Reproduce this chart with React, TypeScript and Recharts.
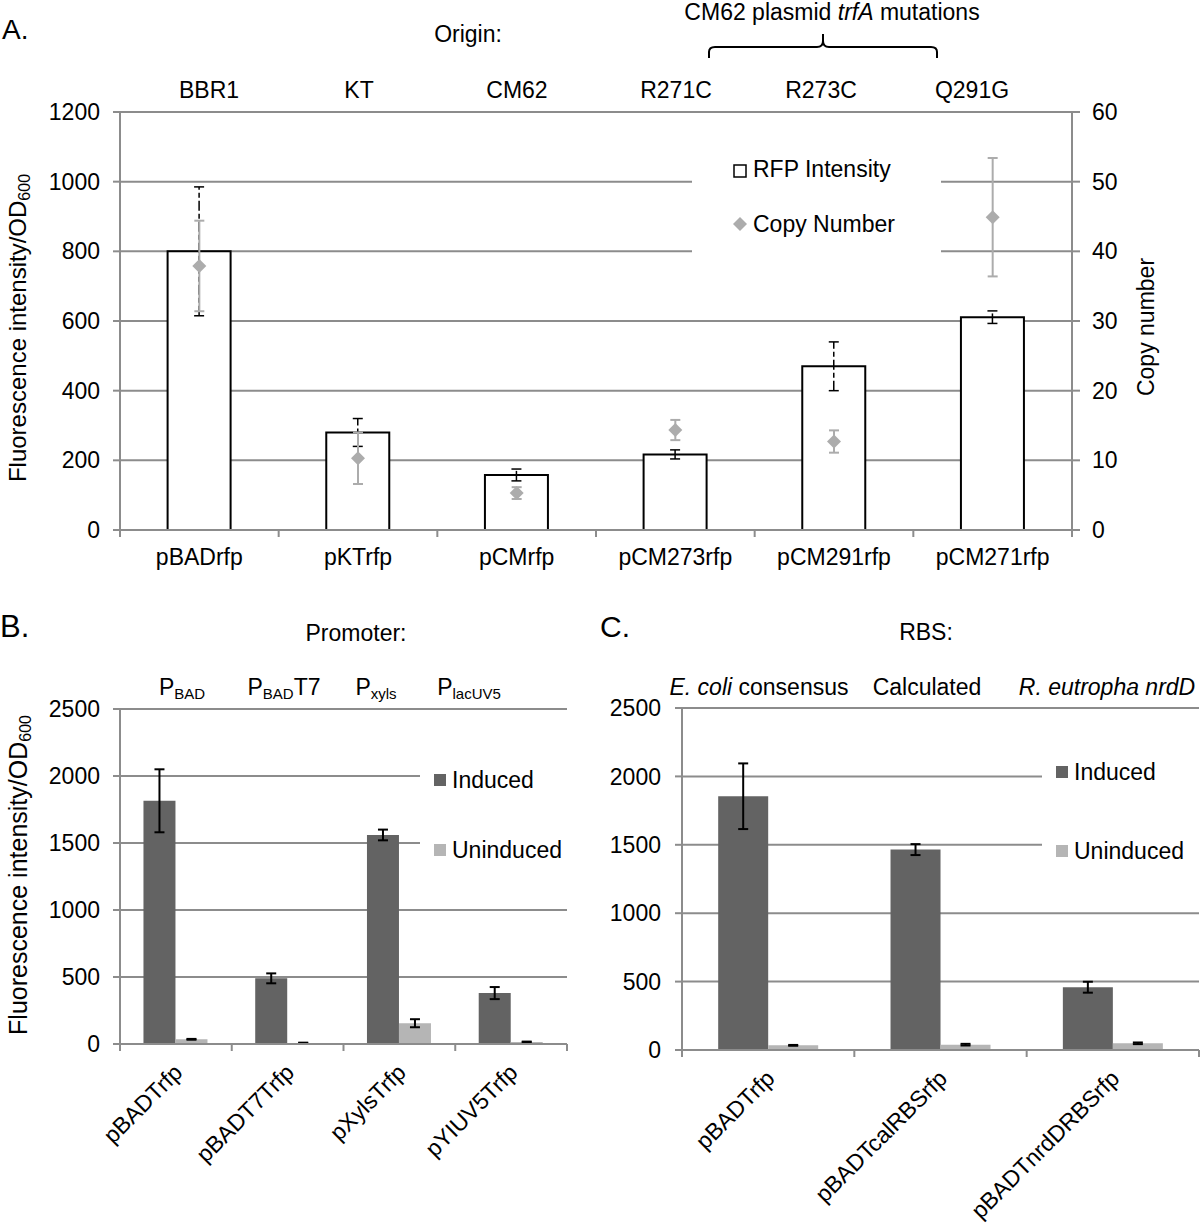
import React from 'react';
import {
  ComposedChart,
  BarChart,
  Bar,
  Line,
  XAxis,
  YAxis,
  CartesianGrid,
  ErrorBar,
  Legend,
} from 'recharts';

// ---------------- Data ----------------
// Panel A
const plasmidsA = ['pBADrfp', 'pKTrfp', 'pCMrfp', 'pCM273rfp', 'pCM291rfp', 'pCM271rfp'];
const rfpIntensity = [800, 280, 158, 217, 470, 611];
const rfpError = [185, 40, 17, 13, 70, 18];
const copyNumber = [37.9, 10.3, 5.3, 14.35, 12.7, 44.9];
const copyError = [6.5, 3.7, 0.85, 1.45, 1.6, 8.5];
const originLabels = ['BBR1', 'KT', 'CM62', 'R271C', 'R273C', 'Q291G'];
const ticksA = [0, 200, 400, 600, 800, 1000, 1200];
const ticksCopy = [0, 10, 20, 30, 40, 50, 60];

// Panel B
const plasmidsB = ['pBADTrfp', 'pBADT7Trfp', 'pXylsTrfp', 'pYIUV5Trfp'];
const inducedB = [1815, 490, 1560, 380];
const inducedErrB = [235, 37, 40, 45];
const uninducedB = [35, 8, 155, 15];
const uninducedErrB = [3, 2, 30, 3];

// Panel C
const plasmidsC = ['pBADTrfp', 'pBADTcalRBSrfp', 'pBADTnrdDRBSrfp'];
const inducedC = [1855, 1465, 459];
const inducedErrC = [240, 40, 40];
const uninducedC = [34, 39, 49];
const uninducedErrC = [3, 6, 6];

const ticksBC = [0, 500, 1000, 1500, 2000, 2500];

// ---------------- Styles ----------------
const FONT = '"Liberation Sans", Arial, Helvetica, sans-serif';
const GRID = '#8c8c8c';
const INDUCED = '#636363';
const UNINDUCED = '#b5b5b5';
const COPY = '#acacac';

// Positions of overlay annotation texts (layout, not data)
const originLabelX = [209, 359, 517, 676, 821, 972];

const dataA = plasmidsA.map((name, i) => ({
  name,
  rfp: rfpIntensity[i],
  rfpErr: rfpError[i],
  copy: copyNumber[i],
  copyErr: copyError[i],
}));
const dataB = plasmidsB.map((name, i) => ({
  name,
  induced: inducedB[i],
  inducedErr: inducedErrB[i],
  uninduced: uninducedB[i],
  uninducedErr: uninducedErrB[i],
}));
const dataC = plasmidsC.map((name, i) => ({
  name,
  induced: inducedC[i],
  inducedErr: inducedErrC[i],
  uninduced: uninducedC[i],
  uninducedErr: uninducedErrC[i],
}));

function CategoryTick(props: any) {
  const { x, y, payload, index, count, rotated, fontSize } = props;
  let half = typeof payload?.offset === 'number' ? payload.offset : 0;
  if (!half && typeof props.width === 'number' && count) half = props.width / count / 2;
  const isLast = index === count - 1;
  return (
    <g>
      <line x1={x - half} y1={y} x2={x - half} y2={y + 7} stroke={GRID} strokeWidth={2} />
      {isLast && <line x1={x + half} y1={y} x2={x + half} y2={y + 7} stroke={GRID} strokeWidth={2} />}
      {rotated ? (
        <text
          x={x + 8}
          y={y + 30}
          textAnchor="end"
          transform={`rotate(-45 ${x + 8} ${y + 30})`}
          fontSize={fontSize}
          fontFamily={FONT}
          fill="#000"
        >
          {payload.value}
        </text>
      ) : (
        <text x={x} y={y + 35} textAnchor="middle" fontSize={fontSize} fontFamily={FONT} fill="#000">
          {payload.value}
        </text>
      )}
    </g>
  );
}

const Diamond = (p: any) => {
  const { cx, cy, index } = p;
  if (cx == null || cy == null) return <g key={`dn-${index}`} />;
  return (
    <path
      key={`dia-${index}`}
      d={`M${cx},${cy - 7}L${cx + 7},${cy}L${cx},${cy + 7}L${cx - 7},${cy}Z`}
      fill={COPY}
    />
  );
};

const LegendA = () => (
  <svg width={249} height={115} style={{ display: 'block' }}>
    <rect x={42} y={20} width={12} height={12} fill="#fff" stroke="#000" strokeWidth={1.5} />
    <text x={61} y={32} fontSize={23} fontFamily={FONT} fill="#000">RFP Intensity</text>
    <path d="M48,72 L55,79 L48,86 L41,79 Z" fill={COPY} />
    <text x={61} y={87} fontSize={23} fontFamily={FONT} fill="#000">Copy Number</text>
  </svg>
);

const makeLegendBC = (w: number, h: number, y1: number, y2: number) => () => (
  <svg width={w} height={h} style={{ display: 'block' }}>
    <rect x={14} y={y1 - 6} width={12} height={12} fill={INDUCED} />
    <text x={32} y={y1 + 8} fontSize={23} fontFamily={FONT} fill="#000">Induced</text>
    <rect x={14} y={y2 - 6} width={12} height={12} fill={UNINDUCED} />
    <text x={32} y={y2 + 8} fontSize={23} fontFamily={FONT} fill="#000">Uninduced</text>
  </svg>
);
const LegendB = makeLegendBC(147, 130, 35, 105);
const LegendC = makeLegendBC(158, 145, 32, 111);

const tickStyle = { fill: '#000', fontSize: 23, fontFamily: FONT };
const axisLineStyle = { stroke: GRID, strokeWidth: 2 };
const tickLineStyle = { stroke: GRID, strokeWidth: 2 };

export default function App() {
  return (
    <div style={{ position: 'absolute', left: 0, top: 0, width: 1200, height: 1225, background: '#fff', fontFamily: FONT }}>
      {/* Panel A */}
      <div style={{ position: 'absolute', left: 0, top: 0 }}>
        <ComposedChart
          width={1200}
          height={600}
          data={dataA}
          margin={{ top: 112, right: 0, bottom: 0, left: 0 }}
          barCategoryGap="30%"
        >
          <CartesianGrid vertical={false} stroke={GRID} strokeWidth={2} yAxisId="left" />
          <XAxis
            dataKey="name"
            interval={0}
            tickLine={false}
            tickSize={0}
            tickMargin={0}
            height={70}
            axisLine={axisLineStyle}
            tick={<CategoryTick count={plasmidsA.length} fontSize={23} />}
          />
          <YAxis
            yAxisId="left"
            width={120}
            domain={[0, 1200]}
            ticks={ticksA}
            allowDataOverflow
            tickSize={7}
            tickMargin={13}
            tick={tickStyle}
            axisLine={axisLineStyle}
            tickLine={tickLineStyle}
          />
          <YAxis
            yAxisId="right"
            orientation="right"
            width={128}
            domain={[0, 60]}
            ticks={ticksCopy}
            allowDataOverflow
            tickSize={8}
            tickMargin={12}
            tick={tickStyle}
            axisLine={axisLineStyle}
            tickLine={tickLineStyle}
          />
          <Bar yAxisId="left" dataKey="rfp" fill="#fff" stroke="#000" strokeWidth={2} isAnimationActive={false}>
            <ErrorBar dataKey="rfpErr" width={5} stroke="#000" strokeWidth={1.5} strokeDasharray="10 3 5 3" direction="y" />
          </Bar>
          <Line
            yAxisId="right"
            dataKey="copy"
            stroke="none"
            dot={Diamond}
            activeDot={false}
            isAnimationActive={false}
          >
            <ErrorBar dataKey="copyErr" width={5} stroke={COPY} strokeWidth={2} direction="y" />
          </Line>
          <Legend
            layout="vertical"
            align="center"
            verticalAlign="middle"
            content={LegendA}
            wrapperStyle={{ left: 692, top: 145, width: 249, height: 115, backgroundColor: '#fff' }}
          />
        </ComposedChart>
      </div>

      {/* Panel B */}
      <div style={{ position: 'absolute', left: 0, top: 600 }}>
        <BarChart
          width={600}
          height={625}
          data={dataB}
          margin={{ top: 109, right: 33, bottom: 0, left: 0 }}
          barCategoryGap="21%"
          barGap={0}
        >
          <CartesianGrid vertical={false} stroke={GRID} strokeWidth={2} />
          <XAxis
            dataKey="name"
            interval={0}
            tickLine={false}
            tickSize={0}
            tickMargin={0}
            height={181}
            axisLine={axisLineStyle}
            tick={<CategoryTick count={plasmidsB.length} fontSize={23} rotated />}
          />
          <YAxis
            width={120}
            domain={[0, 2500]}
            ticks={ticksBC}
            allowDataOverflow
            tickSize={7}
            tickMargin={13}
            tick={tickStyle}
            axisLine={axisLineStyle}
            tickLine={tickLineStyle}
          />
          <Bar dataKey="induced" fill={INDUCED} isAnimationActive={false}>
            <ErrorBar dataKey="inducedErr" width={5} stroke="#000" strokeWidth={2} direction="y" />
          </Bar>
          <Bar dataKey="uninduced" fill={UNINDUCED} isAnimationActive={false}>
            <ErrorBar dataKey="uninducedErr" width={5} stroke="#000" strokeWidth={2} direction="y" />
          </Bar>
          <Legend
            layout="vertical"
            align="center"
            verticalAlign="middle"
            content={LegendB}
            wrapperStyle={{ left: 420, top: 145, width: 147, height: 130, backgroundColor: '#fff' }}
          />
        </BarChart>
      </div>

      {/* Panel C */}
      <div style={{ position: 'absolute', left: 600, top: 600 }}>
        <BarChart
          width={600}
          height={625}
          data={dataC}
          margin={{ top: 108, right: 1, bottom: 0, left: 0 }}
          barCategoryGap="21%"
          barGap={0}
        >
          <CartesianGrid vertical={false} stroke={GRID} strokeWidth={2} />
          <XAxis
            dataKey="name"
            interval={0}
            tickLine={false}
            tickSize={0}
            tickMargin={0}
            height={175}
            axisLine={axisLineStyle}
            tick={<CategoryTick count={plasmidsC.length} fontSize={23} rotated />}
          />
          <YAxis
            width={82}
            domain={[0, 2500]}
            ticks={ticksBC}
            allowDataOverflow
            tickSize={7}
            tickMargin={14}
            tick={tickStyle}
            axisLine={axisLineStyle}
            tickLine={tickLineStyle}
          />
          <Bar dataKey="induced" fill={INDUCED} isAnimationActive={false}>
            <ErrorBar dataKey="inducedErr" width={5} stroke="#000" strokeWidth={2} direction="y" />
          </Bar>
          <Bar dataKey="uninduced" fill={UNINDUCED} isAnimationActive={false}>
            <ErrorBar dataKey="uninducedErr" width={5} stroke="#000" strokeWidth={2} direction="y" />
          </Bar>
          <Legend
            layout="vertical"
            align="center"
            verticalAlign="middle"
            content={LegendC}
            wrapperStyle={{ left: 442, top: 140, width: 158, height: 145, backgroundColor: '#fff' }}
          />
        </BarChart>
      </div>

      {/* Annotations */}
      <svg
        width={1200}
        height={1225}
        style={{ position: 'absolute', left: 0, top: 0, pointerEvents: 'none' }}
        fontFamily={FONT}
        fill="#000"
      >
        {/* Panel A */}
        <text x={2} y={39} fontSize={28}>A.</text>
        <text x={468} y={42} fontSize={23} textAnchor="middle">Origin:</text>
        <text x={832} y={20} fontSize={23} textAnchor="middle">
          CM62 plasmid <tspan fontStyle="italic">trfA</tspan> mutations
        </text>
        <path
          d="M709,58 L709,52 Q709,47 715,47 L817,47 Q823,47 823,41 L823,34 L823,41 Q823,47 829,47 L931,47 Q937,47 937,52 L937,58"
          fill="none"
          stroke="#000"
          strokeWidth={2}
        />
        {originLabels.map((t, i) => (
          <text key={t} x={originLabelX[i]} y={98} fontSize={23} textAnchor="middle">{t}</text>
        ))}
        <text transform="translate(26,328) rotate(-90)" fontSize={24} textAnchor="middle">
          Fluorescence intensity/OD<tspan fontSize={16} dy={4}>600</tspan>
        </text>
        <text transform="translate(1154,327) rotate(-90)" fontSize={23} textAnchor="middle">Copy number</text>

        {/* Panel B */}
        <text x={0} y={637} fontSize={31}>B.</text>
        <text x={356} y={641} fontSize={23} textAnchor="middle">Promoter:</text>
        <text x={182} y={695} fontSize={23} textAnchor="middle">
          P<tspan fontSize={15} dy={4}>BAD</tspan>
        </text>
        <text x={284} y={695} fontSize={23} textAnchor="middle">
          P<tspan fontSize={15} dy={4}>BAD</tspan><tspan dy={-4}>T7</tspan>
        </text>
        <text x={376} y={695} fontSize={23} textAnchor="middle">
          P<tspan fontSize={15} dy={4}>xyls</tspan>
        </text>
        <text x={469} y={695} fontSize={23} textAnchor="middle">
          P<tspan fontSize={15} dy={4}>lacUV5</tspan>
        </text>
        <text transform="translate(27,875) rotate(-90)" fontSize={25} textAnchor="middle">
          Fluorescence intensity/OD<tspan fontSize={16} dy={4}>600</tspan>
        </text>

        {/* Panel C */}
        <text x={600} y={637} fontSize={30}>C.</text>
        <text x={926} y={640} fontSize={23} textAnchor="middle">RBS:</text>
        <text x={759} y={695} fontSize={23} textAnchor="middle">
          <tspan fontStyle="italic">E. coli</tspan> consensus
        </text>
        <text x={927} y={695} fontSize={23} textAnchor="middle">Calculated</text>
        <text x={1107} y={695} fontSize={23} textAnchor="middle" fontStyle="italic">R. eutropha nrdD</text>
      </svg>
    </div>
  );
}
